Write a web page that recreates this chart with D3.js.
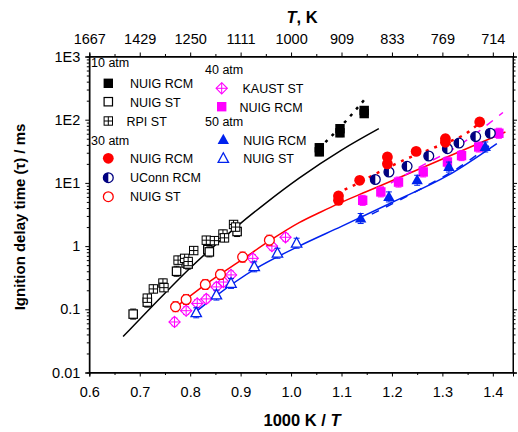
<!DOCTYPE html>
<html><head><meta charset="utf-8">
<script src="https://cdn.jsdelivr.net/npm/d3@7"></script>
<style>body{margin:0;background:#fff}svg{display:block;font-family:"Liberation Sans",Arial,sans-serif}</style>
</head><body><svg id="c" width="518" height="432"></svg>
<script>
// ---- data: [1000K/T, tau(ms)] ----
const nuigRcm10 = [[1.056,31],[1.056,36],[1.097,62],[1.097,72],[1.145,125],[1.145,140]];
const nuigSt10 = [[0.687,0.084],[0.715,0.13],[0.773,0.40],[0.792,0.54],[0.796,0.52],[0.835,0.88],[0.838,0.81],[0.893,1.7]];
const rpiSt10 = [[0.715,0.15],[0.727,0.21],[0.746,0.26],[0.748,0.22],[0.776,0.60],[0.789,0.64],[0.796,0.57],[0.807,0.85],[0.832,1.24],[0.848,1.22],[0.865,1.55],[0.868,1.35],[0.886,2.2],[0.890,2.0]];
const nuigRcm30 = [[1.094,5.3],[1.094,6.2],[1.136,11],[1.191,25.7],[1.191,20],[1.248,31.5],[1.306,50],[1.306,44],[1.374,92]];
const uconnRcm30 = [[1.167,11.3],[1.194,14.9],[1.23,18.3],[1.273,26.6],[1.31,34.8],[1.333,42.7],[1.366,54],[1.395,61]];
const nuigSt30 = [[0.771,0.11],[0.792,0.143],[0.830,0.247],[0.860,0.356],[0.904,0.67],[0.957,1.24]];
const kaustSt40 = [[0.769,0.063],[0.792,0.095],[0.814,0.124],[0.832,0.146],[0.852,0.226],[0.866,0.27],[0.881,0.35],[0.924,0.64],[0.962,1.0],[0.989,1.38]];
const nuigRcm40 = [[1.142,5.3],[1.178,7.2],[1.213,10.3],[1.262,14.9],[1.31,21.4],[1.338,27],[1.372,37],[1.412,61]];
const nuigRcm50 = [[1.138,2.73],[1.194,6.0],[1.25,11],[1.313,17.8],[1.385,37]];
const nuigSt50 = [[0.812,0.088],[0.852,0.168],[0.881,0.257],[0.927,0.47],[0.973,0.77],[1.011,1.11]];
// model lines
const model10 = [[0.667,0.037],[0.75,0.18],[0.8,0.45],[0.891,2.0],[0.95,4.8],[1.016,11.9],[1.1,33],[1.174,72]];
const model10Rcm = [[1.068,44],[1.1,80],[1.146,210]];
const model30 = [[0.764,0.097],[0.83,0.245],[0.904,0.62],[0.96,1.25],[1.016,2.35],[1.06,3.5],[1.094,4.7],[1.15,7.3],[1.2,10.8],[1.306,25],[1.425,64]];
const model30Rcm = [[1.09,6.8],[1.12,8.8],[1.175,14.9],[1.237,25.6],[1.287,37],[1.356,68],[1.389,117]];
const model40Rcm = [[1.17,7.5],[1.25,17],[1.33,38],[1.42,130]];
const model50 = [[0.805,0.083],[0.85,0.16],[0.93,0.44],[1.016,1.0],[1.1,2.05],[1.2,4.9],[1.31,13],[1.408,42]];
const model50Rcm = [[1.16,3.2],[1.25,7.5],[1.33,17],[1.405,46]];
const xTicks = [0.6,0.7,0.8,0.9,1.0,1.1,1.2,1.3,1.4];
const yTicks = [0.01,0.1,1,10,100,1000];
const yTickLabels = ["0.01","0.1","1","1E1","1E2","1E3"];

const svg = d3.select("#c");
const L=89.3, R=513, T=56.5, B=372.5;
const x = d3.scaleLinear().domain([0.6,1.44]).range([L,R]);
const y = d3.scaleLog().domain([0.01,1000]).range([B,T]);

// frame
svg.append("rect").attr("x",L).attr("y",T).attr("width",R-L).attr("height",B-T).attr("fill","none").attr("stroke","#000").attr("stroke-width",1);

const minorX = d3.range(0.65,1.44,0.1);
const minorY = [];
for (let e=-2;e<3;e++) for (let k=2;k<10;k++) minorY.push(k*Math.pow(10,e));

// bottom axis
svg.append("g").attr("transform",`translate(0,${B})`)
  .call(d3.axisBottom(x).tickValues(xTicks).tickFormat(d3.format(".1f")).tickSize(4).tickPadding(10));
svg.append("g").attr("transform",`translate(0,${B})`).call(d3.axisBottom(x).tickValues(minorX).tickFormat("").tickSize(2.5));
// top axis
svg.append("g").attr("transform",`translate(0,${T})`)
  .call(d3.axisTop(x).tickValues(xTicks).tickFormat(d=>Math.round(1000/d)).tickSize(4).tickPadding(9));
svg.append("g").attr("transform",`translate(0,${T})`).call(d3.axisTop(x).tickValues(minorX).tickFormat("").tickSize(2.5));
// left axis
svg.append("g").attr("transform",`translate(${L},0)`)
  .call(d3.axisLeft(y).tickValues(yTicks).tickFormat((d,i)=>yTickLabels[i]).tickSize(4).tickPadding(5));
svg.append("g").attr("transform",`translate(${L},0)`).call(d3.axisLeft(y).tickValues(minorY).tickFormat("").tickSize(2.5));
// right axis
svg.append("g").attr("transform",`translate(${R},0)`).call(d3.axisRight(y).tickValues(yTicks).tickFormat("").tickSize(4));
svg.append("g").attr("transform",`translate(${R},0)`).call(d3.axisRight(y).tickValues(minorY).tickFormat("").tickSize(2.5));
svg.selectAll(".domain").attr("stroke","#000");
svg.selectAll(".tick line").attr("stroke","#000");
svg.selectAll(".tick text").attr("font-size",14.5).attr("fill","#000").attr("font-family","Liberation Sans, Arial, sans-serif");

// axis titles
const xt = svg.append("text").attr("x",302).attr("y",426).attr("text-anchor","middle").attr("font-size",16.5).attr("font-weight","bold");
xt.append("tspan").text("1000 K / ");
xt.append("tspan").attr("font-style","italic").text("T");
const tt = svg.append("text").attr("x",302).attr("y",23).attr("text-anchor","middle").attr("font-size",16.5).attr("font-weight","bold");
tt.append("tspan").attr("font-style","italic").text("T");
tt.append("tspan").text(", K");
svg.append("text").attr("transform","translate(24.5,217) rotate(-90)").attr("text-anchor","middle")
  .attr("font-size",15).attr("font-weight","bold").text("Ignition delay time (\u03C4) / ms");

// lines
const line = d3.line().x(d=>x(d[0])).y(d=>y(d[1])).curve(d3.curveMonotoneX);
const plotG = svg.append("g");
function drawLine(data,color,dash,w){
  plotG.append("path").datum(data).attr("d",line).attr("fill","none").attr("stroke",color).attr("stroke-width",w||1.5).attr("stroke-dasharray",dash||null);
}
drawLine(model10,"#000");
drawLine(model10Rcm,"#000","3,6",2.5);
drawLine(model30,"#ff0000");
drawLine(model30Rcm,"#ff0000","3,6",2.5);
drawLine(model40Rcm,"#ff00ff","8,8",1.5);
drawLine(model50,"#0022ee");
drawLine(model50Rcm,"#0022ee","8,8",1.5);

// markers
const NAVY="#000080", MAG="#ff00ff", RED="#ff0000", BLUE="#0022ee";
function marker(g,type,cx,cy,color){
  const s=4.7;
  if(type==="sqF") g.append("rect").attr("x",cx-s).attr("y",cy-s).attr("width",2*s).attr("height",2*s).attr("fill",color);
  else if(type==="sqO") g.append("rect").attr("x",cx-s+0.5).attr("y",cy-s+0.5).attr("width",2*s-1).attr("height",2*s-1).attr("fill","#fff").attr("stroke",color).attr("stroke-width",1.2);
  else if(type==="sqX"){
    g.append("rect").attr("x",cx-s+0.5).attr("y",cy-s+0.5).attr("width",2*s-1).attr("height",2*s-1).attr("fill","#fff").attr("stroke",color).attr("stroke-width",1);
    g.append("path").attr("d",`M${cx-s+0.5},${cy}H${cx+s-0.5}M${cx},${cy-s+0.5}V${cy+s-0.5}`).attr("stroke",color).attr("stroke-width",1);
  }
  else if(type==="ciF") g.append("circle").attr("cx",cx).attr("cy",cy).attr("r",5.4).attr("fill",color);
  else if(type==="ciO") g.append("circle").attr("cx",cx).attr("cy",cy).attr("r",4.9).attr("fill","#fff").attr("stroke",color).attr("stroke-width",1.3);
  else if(type==="ciH"){
    g.append("circle").attr("cx",cx).attr("cy",cy).attr("r",4.9).attr("fill","#fff").attr("stroke",color).attr("stroke-width",1.3);
    g.append("path").attr("d",`M${cx},${cy-4.9}A4.9,4.9 0 0 0 ${cx},${cy+4.9}Z`).attr("fill",color);
  }
  else if(type==="diX"){
    const d=5.6;
    g.append("path").attr("d",`M${cx},${cy-d}L${cx+d},${cy}L${cx},${cy+d}L${cx-d},${cy}Z`).attr("fill","#fff").attr("stroke",color).attr("stroke-width",1.1);
    g.append("path").attr("d",`M${cx-d},${cy}H${cx+d}M${cx},${cy-d}V${cy+d}`).attr("stroke",color).attr("stroke-width",1);
  }
  else if(type==="trF") g.append("path").attr("d",`M${cx},${cy-6.2}L${cx+5.7},${cy+4}L${cx-5.7},${cy+4}Z`).attr("fill",color);
  else if(type==="trO") g.append("path").attr("d",`M${cx},${cy-5.7}L${cx+5.2},${cy+3.9}L${cx-5.2},${cy+3.9}Z`).attr("fill","#fff").attr("stroke",color).attr("stroke-width",1.3);
}
function drawSeries(data,type,color,err){
  const g=svg.append("g");
  data.forEach(d=>{
    const cx=x(d[0]), cy=y(d[1]);
    if(err){
      const y0=y(d[1]*err), y1=y(d[1]/err);
      g.append("path").attr("d",`M${cx},${y0}V${y1}M${cx-3},${y0}H${cx+3}M${cx-3},${y1}H${cx+3}`).attr("stroke",color).attr("stroke-width",1);
    }
    marker(g,type,cx,cy,color);
  });
}
drawSeries(nuigSt10,"sqO","#000",1.2);
drawSeries(rpiSt10,"sqX","#000",1.15);
drawSeries(nuigRcm10,"sqF","#000",1.15);
drawSeries(kaustSt40,"diX",MAG,1.15);
drawSeries(nuigSt30,"ciO",RED,1.2);
drawSeries(nuigSt50,"trO",BLUE,1.2);
drawSeries(nuigRcm40,"sqF",MAG,1.2);
drawSeries(nuigRcm50,"trF",BLUE,1.2);
drawSeries(uconnRcm30,"ciH",NAVY,1.1);
drawSeries(nuigRcm30,"ciF",RED,1.15);

// legend
const lg = svg.append("g").attr("font-size",12.5);
function ltext(tx,ty,s){ lg.append("text").attr("x",tx).attr("y",ty+4.5).text(s); }
ltext(91,62,"10 atm");
marker(lg,"sqF",108.3,83.3,"#000"); ltext(130,83,"NUIG RCM");
marker(lg,"sqO",108.3,101.7,"#000"); ltext(130,102,"NUIG ST");
marker(lg,"sqX",108.3,121,"#000"); ltext(126.5,121,"RPI ST");
ltext(91,140,"30 atm");
marker(lg,"ciF",108.3,158.3,RED); ltext(130,158.5,"NUIG RCM");
marker(lg,"ciH",108.3,177.7,NAVY); ltext(130,177.5,"UConn RCM");
marker(lg,"ciO",108.3,196.7,RED); ltext(130,196.5,"NUIG ST");
ltext(205,69,"40 atm");
marker(lg,"diX",221.7,88.3,MAG); ltext(242.5,88.5,"KAUST ST");
marker(lg,"sqF",221.7,106.7,MAG); ltext(239.5,107,"NUIG RCM");
ltext(205,121,"50 atm");
marker(lg,"trF",223.3,140,BLUE); ltext(243.3,140,"NUIG RCM");
marker(lg,"trO",223.3,158.5,BLUE); ltext(243.3,158.5,"NUIG ST");
</script></body></html>
